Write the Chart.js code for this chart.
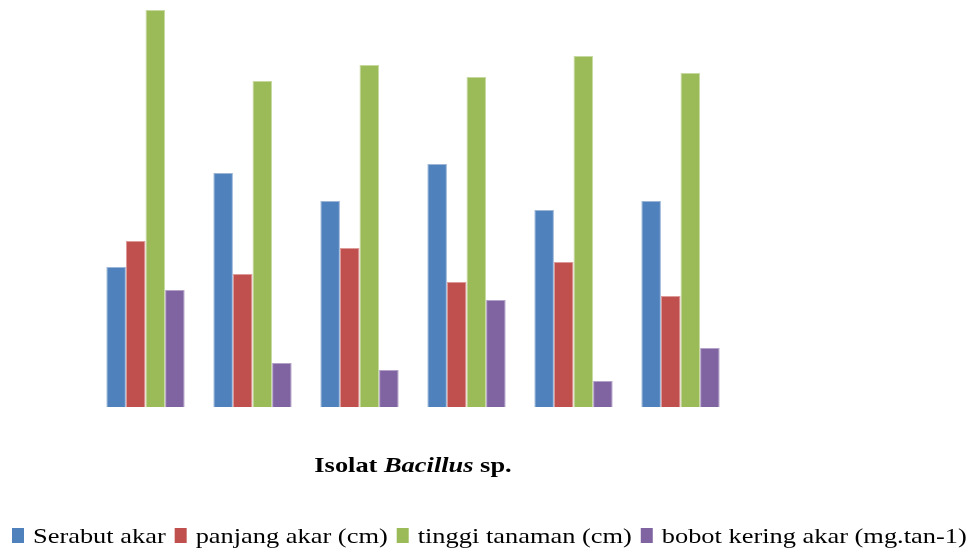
<!DOCTYPE html>
<html>
<head>
<meta charset="utf-8">
<script src="https://cdn.jsdelivr.net/npm/chart.js@4/dist/chart.umd.min.js"></script>
<style>
html,body{margin:0;padding:0;background:#fff;}
#wrap{width:977px;height:552px;position:relative;}
.pre{position:absolute;left:-9999px;top:0;font-family:'Liberation Serif';}
</style>
</head>
<body>
<div class="pre"><span style="font-weight:bold">Isolat</span><i style="font-weight:bold">Bacillus</i><span>Serabut</span></div>
<div id="wrap"><canvas id="c" width="977" height="552"></canvas></div>
<script>
// Data
const categories = ["1", "2", "3", "4", "5", "6"];
const serabutAkar = [14.0, 23.4, 20.6, 24.3, 19.7, 20.6];
const panjangAkar = [16.6, 13.3, 15.9, 12.5, 14.5, 11.1];
const tinggiTanaman = [39.7, 32.6, 34.2, 33.0, 35.1, 33.4];
const bobotKering = [11.7, 4.4, 3.7, 10.7, 2.6, 5.9];
const seriesNames = ["Serabut akar", "panjang akar (cm)", "tinggi tanaman (cm)", "bobot kering akar (mg.tan-1)"];
const titleParts = [["Isolat ", false], ["Bacillus", true], [" sp.", false]];

const colors = ["#4F81BD", "#C0504D", "#9BBB59", "#8064A2"];
const borders = ["#9db6d8", "#dc9a98", "#c6d9a0", "#b3a1c8"];
const seriesData = [serabutAkar, panjangAkar, tinggiTanaman, bobotKering];
const FAM = "'Liberation Serif', 'Times New Roman', Times, serif";

const textPlugin = {
  id: 'textPlugin',
  afterDraw(chart) {
    const ctx = chart.ctx;
    const area = chart.chartArea;
    const sxT = 1.2;
    ctx.save();
    ctx.fillStyle = '#000';
    ctx.textBaseline = 'alphabetic';
    const fonts = titleParts.map(p => (p[1] ? 'italic bold ' : 'bold ') + "22px " + FAM);
    let widths = titleParts.map((p, i) => { ctx.font = fonts[i]; return ctx.measureText(p[0]).width * sxT; });
    let total = widths.reduce((a, b) => a + b, 0);
    let x = (area.left + area.right) / 2 - total / 2;
    titleParts.forEach((p, i) => {
      ctx.font = fonts[i];
      ctx.save();
      ctx.translate(x, 472);
      ctx.scale(sxT, 1);
      ctx.fillText(p[0], 0, 0);
      ctx.restore();
      x += widths[i];
    });
    const sxL = 1.2;
    ctx.font = "22px " + FAM;
    let lx = 12;
    chart.data.datasets.forEach((ds, i) => {
      ctx.fillStyle = ds.backgroundColor;
      ctx.fillRect(lx, 528, 12, 15);
      const tx = lx + 21;
      ctx.fillStyle = '#000';
      ctx.save();
      ctx.translate(tx, 542.5);
      ctx.scale(sxL, 1);
      ctx.fillText(ds.label, 0, 0);
      ctx.restore();
      lx = tx + ctx.measureText(ds.label).width * sxL + 9;
    });
    ctx.restore();
  }
};

function build() {
  new Chart(document.getElementById('c'), {
    type: 'bar',
    data: {
      labels: categories,
      datasets: seriesNames.map((n, i) => ({
        label: n,
        data: seriesData[i],
        backgroundColor: colors[i],
        borderColor: borders[i],
        borderWidth: 1,
        categoryPercentage: 0.732,
        barPercentage: 1.0
      }))
    },
    options: {
      responsive: false,
      animation: false,
      devicePixelRatio: 1,
      layout: { padding: { left: 92, right: 243, top: 7, bottom: 145 } },
      plugins: { legend: { display: false }, title: { display: false }, tooltip: { enabled: false } },
      scales: {
        x: { display: false },
        y: { display: false, min: 0, max: 40 }
      }
    },
    plugins: [textPlugin]
  });
}

Promise.all([
  document.fonts.load("bold 22px 'Liberation Serif'"),
  document.fonts.load("italic bold 22px 'Liberation Serif'"),
  document.fonts.load("22px 'Liberation Serif'")
]).catch(() => {}).then(build);
</script>
</body>
</html>
